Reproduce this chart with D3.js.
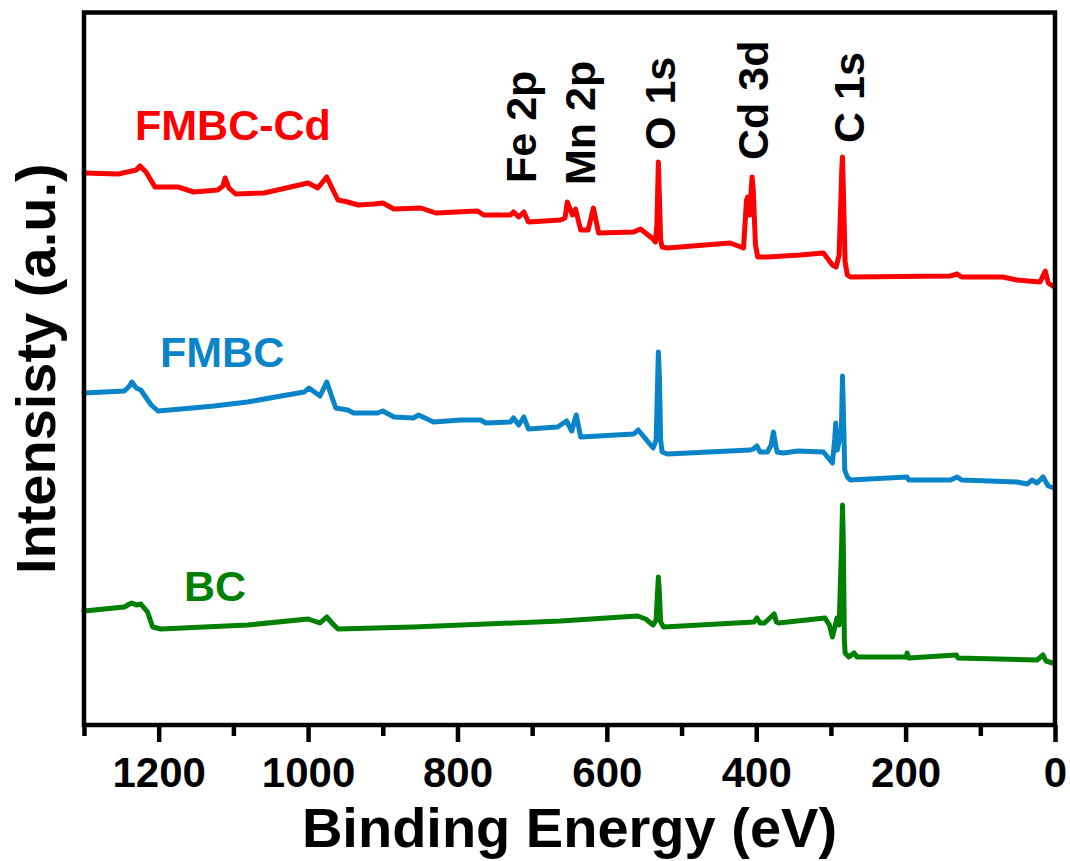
<!DOCTYPE html>
<html>
<head>
<meta charset="utf-8">
<script src="https://cdn.jsdelivr.net/npm/d3@7"></script>
<style>
  body { margin: 0; background: #fff; }
  text { font-family: "Liberation Sans", Arial, sans-serif; font-weight: bold; }
</style>
</head>
<body>
<div id="chart"></div>
<script>
// XPS survey spectra, [binding energy (eV), intensity (a.u.)]
const fmbcCd = [
  [1300, 552], [1254, 551], [1230, 555], [1225, 559], [1217, 553], [1205, 538], [1174, 538],
  [1153, 533], [1121, 535], [1114, 539], [1111, 547], [1106, 537], [1097, 531], [1059, 532],
  [1000, 542], [987, 537], [975, 548], [968, 537], [960, 525], [947, 523], [933, 520],
  [912, 521], [900, 522], [885, 516], [849, 517], [829, 512], [773, 514], [765, 510],
  [729, 510], [725, 513], [718, 508], [711, 513], [705, 503], [662, 505], [656, 507],
  [653, 523], [646, 510], [642, 516], [635, 495], [625, 495], [618, 517], [611, 492],
  [564, 493], [555, 496], [538, 486], [535, 483], [533, 500], [531, 563], [529.5, 525],
  [528, 485], [526, 478], [519, 477], [435, 482], [417, 477], [413, 525], [411.5, 528],
  [409, 510], [405.5, 548], [404, 535], [401, 480], [398, 468], [385, 468], [341, 470],
  [310, 472], [298, 460], [293, 458], [289, 470], [285.5, 555], [284.5, 568], [283, 525],
  [281, 463], [278, 450], [274, 448], [140, 449], [131, 451], [125, 448], [70, 448],
  [51, 445], [20, 443], [13, 454], [9, 442], [1, 438]
];

const fmbc = [
  [1300, 332], [1246, 334], [1239, 339], [1236, 343], [1230, 337], [1224, 335], [1210, 320],
  [1201, 314], [1170, 316], [1126, 319], [1081, 323], [1036, 329], [1005, 333], [999, 337],
  [984, 329], [975, 343], [969, 330], [963, 317], [947, 315], [939, 312], [907, 312],
  [900, 314], [885, 308], [859, 307], [852, 310], [832, 303], [796, 305], [769, 305],
  [762, 302], [729, 303], [725, 307], [718, 300], [711, 308], [705, 296], [666, 298],
  [654, 304], [647, 294], [641, 310], [635, 288], [564, 291], [558, 295], [538, 277],
  [534, 285], [532, 345], [531, 373], [529.5, 345], [528, 285], [526, 273], [519, 271],
  [408, 275], [404, 276], [399, 279], [395, 273], [385, 273], [380, 280], [377, 293],
  [374, 280], [372, 273], [364, 272], [344, 274], [310, 273], [298, 262], [295, 285],
  [293.5, 302], [291.5, 275], [286, 295], [284.5, 349], [283, 305], [281.5, 255], [278, 248],
  [274, 245], [198, 248], [196, 245], [140, 245], [131, 248], [125, 245], [51, 243],
  [37, 241], [31, 245], [24, 242], [16, 248], [9, 239], [1, 237]
];

const bc = [
  [1300, 114], [1246, 118], [1239, 121], [1236, 122], [1230, 120], [1224, 121], [1215, 113],
  [1208, 98], [1197, 96], [1081, 100], [1000, 106], [984, 102], [975, 108], [968, 102],
  [960, 96], [859, 98], [662, 104], [559, 109], [548, 106], [538, 100], [534, 105],
  [532, 135], [531, 148], [529.5, 130], [528, 103], [524, 98], [403, 103], [399, 107],
  [395, 102], [389, 102], [376, 111], [373, 103], [370, 102], [308, 107], [302, 100],
  [298, 88], [295, 97], [292, 107], [289, 100], [285.5, 185], [284.5, 220], [283.5, 185],
  [282, 85], [281, 72], [276, 68], [269, 72], [265, 68], [199, 68], [198, 72], [196, 67],
  [132, 70], [130, 67], [24, 65], [16, 70], [12, 64], [3, 62]
];

const seriesNames = ["FMBC-Cd", "FMBC", "BC"];
const seriesColors = ["#ff0000", "#0a84c8", "#008000"];

const peakNames = ["Fe 2p", "Mn 2p", "O 1s", "Cd 3d", "C 1s"];
const peakEnergies = [715, 637, 530, 405, 276];

const majorTicks = [1200, 1000, 800, 600, 400, 200, 0];
const minorTicks = [1300, 1100, 900, 700, 500, 300, 100];

const W = 1070, H = 861;
const plot = { left: 84, right: 1055, top: 12.5, bottom: 725 };

const svg = d3.select("#chart").append("svg")
  .attr("width", W)
  .attr("height", H);

const x = d3.scaleLinear().domain([1300, 0]).range([plot.left, plot.right]);
const y = d3.scaleLinear().domain([0, 712.5]).range([plot.bottom, plot.top]);

// spectra
const line = d3.line()
  .x(d => x(d[0]))
  .y(d => y(d[1]));

const allSeries = [fmbcCd, fmbc, bc];
svg.append("g").selectAll("path")
  .data(allSeries)
  .enter()
  .append("path")
  .attr("d", line)
  .attr("fill", "none")
  .attr("stroke", (d, i) => seriesColors[i])
  .attr("stroke-width", 5)
  .attr("stroke-linejoin", "round")
  .attr("stroke-linecap", "round");

// axes: minor then major ticks, outward
svg.append("g")
  .attr("transform", `translate(0,${plot.bottom})`)
  .call(d3.axisBottom(x).tickValues(minorTicks).tickSize(11).tickFormat(""))
  .call(g => g.select(".domain").remove())
  .call(g => g.selectAll(".tick line").attr("stroke", "#000").attr("stroke-width", 4.5));

svg.append("g")
  .attr("transform", `translate(0,${plot.bottom})`)
  .call(d3.axisBottom(x).tickValues(majorTicks).tickSize(17).tickPadding(15).tickFormat(d3.format("d")))
  .call(g => g.select(".domain").remove())
  .call(g => g.selectAll(".tick line").attr("stroke", "#000").attr("stroke-width", 4.5))
  .call(g => g.selectAll(".tick text")
    .attr("fill", "#000")
    .style("font-size", "42px")
    .style("font-family", "'Liberation Sans', Arial, sans-serif")
    .style("font-weight", "bold"));

// frame
svg.append("rect")
  .attr("x", plot.left)
  .attr("y", plot.top)
  .attr("width", plot.right - plot.left)
  .attr("height", plot.bottom - plot.top)
  .attr("fill", "none")
  .attr("stroke", "#000")
  .attr("stroke-width", 4.5);

// axis titles
svg.append("text")
  .attr("x", (plot.left + plot.right) / 2)
  .attr("y", 847)
  .attr("text-anchor", "middle")
  .style("font-size", "56px")
  .text("Binding Energy (eV)");

svg.append("text")
  .attr("transform", `translate(55,${(plot.top + plot.bottom) / 2}) rotate(-90)`)
  .attr("text-anchor", "middle")
  .style("font-size", "56px")
  .text("Intensisty (a.u.)");

// series labels
const labelPos = [[135, 140], [160, 367], [184, 601]];
svg.append("g").selectAll("text")
  .data(seriesNames)
  .enter()
  .append("text")
  .attr("x", (d, i) => labelPos[i][0])
  .attr("y", (d, i) => labelPos[i][1])
  .attr("fill", (d, i) => seriesColors[i])
  .style("font-size", "43px")
  .text(d => d);

// peak labels, rotated
const peakBottom = [183, 185, 150, 160, 143];
svg.append("g").selectAll("text")
  .data(peakNames)
  .enter()
  .append("text")
  .attr("transform", (d, i) => `translate(${x(peakEnergies[i])},${peakBottom[i]}) rotate(-90)`)
  .attr("dy", "0.36em")
  .attr("text-anchor", "start")
  .attr("fill", "#000")
  .style("font-size", "43px")
  .text(d => d);
</script>
</body>
</html>
